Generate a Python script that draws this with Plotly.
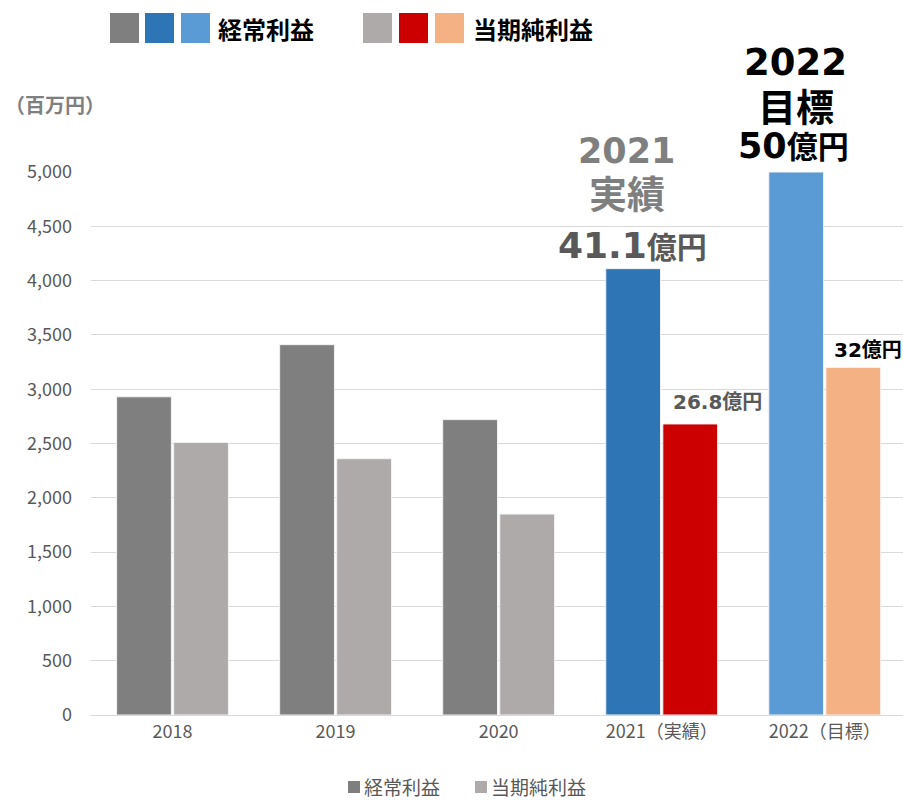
import plotly.graph_objects as go

categories = ["2018", "2019", "2020", "2021（実績）", "2022（目標）"]
keijo = [2930, 3410, 2720, 4110, 5000]
junri = [2510, 2360, 1850, 2680, 3200]
keijo_colors = ["#7F7F7F", "#7F7F7F", "#7F7F7F", "#2E75B6", "#5B9BD5"]
junri_colors = ["#AEAAAA", "#AEAAAA", "#AEAAAA", "#CC0000", "#F4B183"]
y_ticks = [0, 500, 1000, 1500, 2000, 2500, 3000, 3500, 4000, 4500, 5000]
series_names = ["経常利益", "当期純利益"]

W, H = 903, 802
L, R, T, B = 91, 0, 172, 87
PW, PH = W - L - R, H - T - B

def px(x):
    return (x - L) / PW

def py(y):
    return (H - B - y) / PH

CJK = "Noto Sans CJK JP"
BIG = "DejaVu Sans, Noto Sans CJK JP"

fig = go.Figure()
fig.add_trace(go.Bar(name=series_names[0], x=categories, y=keijo,
                     marker=dict(color=keijo_colors, line=dict(color="#F2F2F2", width=1))))
fig.add_trace(go.Bar(name=series_names[1], x=categories, y=junri,
                     marker=dict(color=junri_colors, line=dict(color="#F2F2F2", width=1))))

shapes = []
annotations = []

# top custom legend
sq = [(110, "#7F7F7F"), (145, "#2E75B6"), (181, "#5B9BD5"),
      (363, "#AEAAAA"), (399, "#CC0000"), (435, "#F4B183")]
for x0, c in sq:
    shapes.append(dict(type="rect", xref="paper", yref="paper",
                       x0=px(x0), x1=px(x0 + 29), y0=py(43), y1=py(13),
                       fillcolor=c, line=dict(width=0)))
annotations.append(dict(xref="paper", yref="paper", x=px(216), y=py(29), xanchor="left", yanchor="middle",
                        text="<b>" + series_names[0] + "</b>", showarrow=False,
                        font=dict(family=CJK, size=24, color="#000000")))
annotations.append(dict(xref="paper", yref="paper", x=px(471), y=py(29), xanchor="left", yanchor="middle",
                        text="<b>" + series_names[1] + "</b>", showarrow=False,
                        font=dict(family=CJK, size=24, color="#000000")))

# bottom custom legend
for x0, c, name in [(348, "#7F7F7F", series_names[0]), (475, "#AEAAAA", series_names[1])]:
    shapes.append(dict(type="rect", xref="paper", yref="paper",
                       x0=px(x0), x1=px(x0 + 12), y0=py(793), y1=py(781),
                       fillcolor=c, line=dict(width=0)))
    annotations.append(dict(xref="paper", yref="paper", x=px(x0 + 15), y=py(786), xanchor="left",
                            yanchor="middle", text=name, showarrow=False, borderpad=0,
                            font=dict(family=CJK, size=19, color="#595959")))

# unit label
annotations.append(dict(xref="paper", yref="paper", x=px(55), y=py(104), xanchor="center", yanchor="middle",
                        text="<b>（百万円）</b>", showarrow=False, font=dict(family=CJK, size=20, color="#7F7F7F")))

# 2021 labels
c21 = categories[3]
annotations += [
    dict(x=c21, y=keijo[3], xshift=-35, yshift=118, yanchor="middle", showarrow=False,
         text="<b>2021</b>", font=dict(family=BIG, size=35, color="#7F7F7F")),
    dict(x=c21, y=keijo[3], xshift=-35, yshift=74, yanchor="middle", showarrow=False,
         text="<b>実績</b>", font=dict(family=BIG, size=38, color="#7F7F7F")),
    dict(x=c21, y=keijo[3], xshift=-29, yshift=23, yanchor="middle", showarrow=False,
         text="<b>41.1<span style='font-size:30px'>億円</span></b>", font=dict(family=BIG, size=36, color="#595959")),
    dict(x=c21, y=junri[3], xshift=55.5, yshift=22, yanchor="middle", showarrow=False,
         text="<b>26.8億円</b>", font=dict(family=BIG, size=20, color="#595959")),
]
# 2022 labels
c22 = categories[4]
annotations += [
    dict(x=c22, y=keijo[4], xshift=-29, yshift=110, yanchor="middle", showarrow=False,
         text="<b>2022</b>", font=dict(family=BIG, size=37, color="#000000")),
    dict(x=c22, y=keijo[4], xshift=-29, yshift=64, yanchor="middle", showarrow=False,
         text="<b>目標</b>", font=dict(family=BIG, size=38, color="#000000")),
    dict(x=c22, y=keijo[4], xshift=-31, yshift=26, yanchor="middle", showarrow=False,
         text="<b>50<span style='font-size:31px'>億円</span></b>", font=dict(family=BIG, size=35, color="#000000")),
    dict(x=c22, y=junri[4], xshift=43, yshift=17, yanchor="middle", showarrow=False,
         text="<b>32億円</b>", font=dict(family=BIG, size=20, color="#000000")),
]

fig.update_layout(
    width=W, height=H,
    margin=dict(l=L, r=R, t=T, b=B, autoexpand=False),
    paper_bgcolor="white", plot_bgcolor="white",
    barmode="group", bargap=0.30, bargroupgap=0.04,
    font=dict(family=CJK, color="#595959", size=18),
    showlegend=False,
    shapes=shapes, annotations=annotations,
)
fig.update_xaxes(range=[-0.5, 4.48], showline=True, linecolor="#D9D9D9", ticks="",
                 tickfont=dict(family=CJK, size=18, color="#595959"), fixedrange=True)
fig.update_yaxes(range=[0, 5000], tickvals=y_ticks, tickformat=",d", showgrid=True, gridcolor="#D9D9D9",
                 zeroline=False, ticks="", ticklabelstandoff=18,
                 tickfont=dict(family=CJK, size=18, color="#595959"), fixedrange=True)

fig.write_html("out.html", config={"displayModeBar": False},
               post_script="document.body.style.margin='0px';document.body.style.overflow='hidden';")
